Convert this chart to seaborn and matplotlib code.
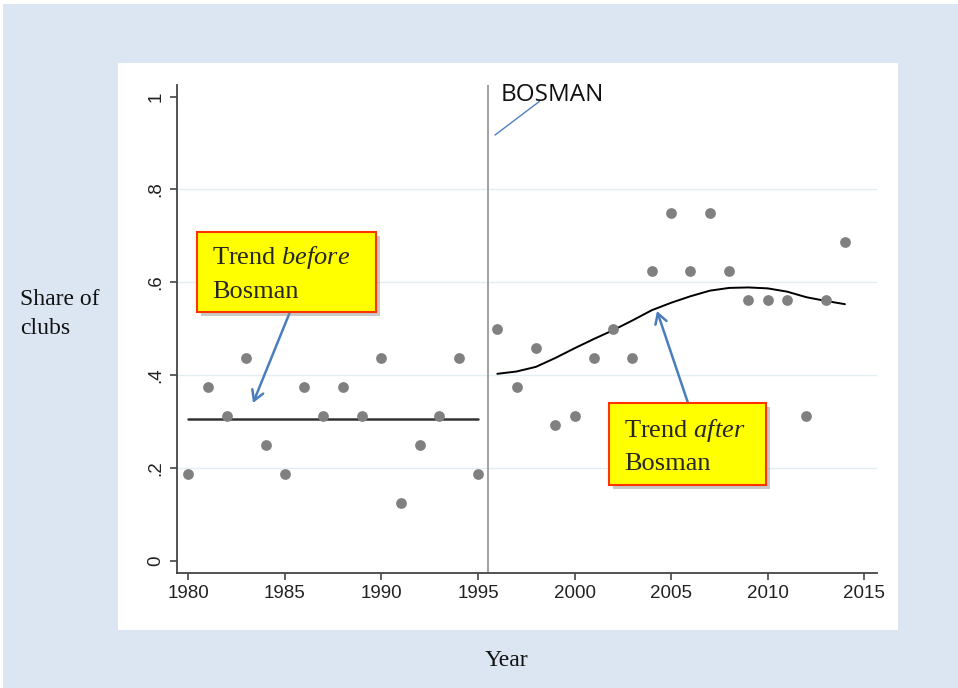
import numpy as np
import seaborn as sns
import matplotlib.pyplot as plt
from matplotlib.patches import Rectangle
import matplotlib.patheffects as pe

# share of clubs per season
years_before = list(range(1980, 1996))
share_before = [0.1875, 0.375, 0.3125, 0.4375, 0.25, 0.1875, 0.375, 0.3125,
                0.375, 0.3125, 0.4375, 0.125, 0.25, 0.3125, 0.4375, 0.1875]

years_after = list(range(1996, 2015))
share_after = [0.5, 0.375, 0.4583, 0.2917, 0.3125, 0.4375, 0.5, 0.4375, 0.625,
               0.75, 0.625, 0.75, 0.625, 0.5625, 0.5625, 0.5625, 0.3125, 0.5625, 0.6875]
# smoothed trend after Bosman
trend_after = [0.403, 0.408, 0.418, 0.437, 0.458, 0.478, 0.497, 0.518, 0.540,
               0.556, 0.570, 0.582, 0.588, 0.589, 0.587, 0.580, 0.568, 0.560, 0.553]

bosman_year = 1995.5
x_ticks = [1980, 1985, 1990, 1995, 2000, 2005, 2010, 2015]
y_ticks = [0, 0.2, 0.4, 0.6, 0.8, 1]
y_tick_labels = ["0", ".2", ".4", ".6", ".8", "1"]
grid_vals = [0.2, 0.4, 0.6, 0.8]

sns.set_theme(style="ticks")
plt.rcParams["font.family"] = ["Liberation Sans", "DejaVu Sans"]
plt.rcParams["mathtext.fontset"] = "custom"
plt.rcParams["mathtext.rm"] = "Liberation Serif"
plt.rcParams["mathtext.it"] = "Liberation Serif:italic"

W, H = 958, 688
fig = plt.figure(figsize=(W / 100, H / 100), dpi=100, facecolor="#dce6f2")
# white panel behind the plot + thin white strips on top/left edge
fig.patches.append(Rectangle((118 / W, 1 - 630 / H), 780 / W, 567 / H,
                             transform=fig.transFigure, fc="white", ec="none", zorder=-10))
fig.patches.append(Rectangle((0, 1 - 4 / H), 1, 4 / H,
                             transform=fig.transFigure, fc="white", ec="none", zorder=-10))
fig.patches.append(Rectangle((0, 0), 3 / W, 1,
                             transform=fig.transFigure, fc="white", ec="none", zorder=-10))

ax = fig.add_axes([177 / W, 1 - 573 / H, 700 / W, 488 / H])
ax.set_facecolor("white")

for g in grid_vals:
    ax.axhline(g, color="#e4edf0", lw=1, zorder=0)
ax.axvline(bosman_year, color="#9a9a9a", lw=1.3, zorder=1)

sns.scatterplot(x=years_before, y=share_before, color="#808080", s=60,
                linewidth=0, ax=ax, zorder=3)
sns.scatterplot(x=years_after, y=share_after, color="#808080", s=60,
                linewidth=0, ax=ax, zorder=3)

mean_before = np.mean(share_before)
sns.lineplot(x=[years_before[0], years_before[-1]], y=[mean_before, mean_before],
             color="#333333", lw=1.8, ax=ax, zorder=2)
sns.lineplot(x=years_after, y=trend_after, color="black", lw=1.4, ax=ax, zorder=2)

ax.set_xlim(1979.415, 2015.66)
ax.set_ylim(-0.026, 1.025)
ax.set_xticks(x_ticks)
ax.set_yticks(y_ticks)
ax.set_yticklabels(y_tick_labels, rotation=90, va="center")
ax.tick_params(axis="both", length=5, width=1.2, color="#444444",
               labelsize=13.5, labelcolor="#222222", pad=4)
for s in ["top", "right"]:
    ax.spines[s].set_visible(False)
for s in ["left", "bottom"]:
    ax.spines[s].set_color("#444444")
    ax.spines[s].set_linewidth(1.3)
ax.set_xlabel("")
ax.set_ylabel("")

# axis titles sit outside the white panel
fig.text(20 / W, 1 - 314 / H, "Share of\nclubs", family="Liberation Serif",
         fontsize=17, ha="left", va="center", linespacing=1.45, color="#111111")
fig.text(506 / W, 1 - 661 / H, "Year", family="Liberation Serif",
         fontsize=17, ha="center", va="center", color="#111111")

# BOSMAN label
ax.text(0.4624, 0.968, "BOSMAN", transform=ax.transAxes, family="Open Sans",
        fontsize=17.5, ha="left", va="baseline", color="#111111")
ax.plot([0.4543, 0.5176], [0.8975, 0.9662], transform=ax.transAxes,
        color="#4f81bd", lw=1)

arrow_blue = "#4a7ebb"
shadow = [pe.SimplePatchShadow(offset=(3, -3), shadow_rgbFace="#888888", alpha=0.45),
          pe.Normal()]

# box: trend before
b1 = Rectangle((0.0286, 0.5348), 0.2557, 0.1639, transform=ax.transAxes,
               fc="#ffff00", ec="#ff3300", lw=1.5, zorder=5)
b1.set_path_effects(shadow)
ax.add_patch(b1)
ax.text(0.05, 0.633, "Trend $\\mathit{before}$", transform=ax.transAxes,
        family="Liberation Serif", fontsize=19, ha="left", va="baseline", zorder=6)
ax.text(0.05, 0.5635, "Bosman", transform=ax.transAxes,
        family="Liberation Serif", fontsize=19, ha="left", va="baseline", zorder=6)
ax.annotate("", xy=(0.1086, 0.3484), xytext=(0.1614, 0.5348),
            xycoords="axes fraction", textcoords="axes fraction",
            arrowprops=dict(arrowstyle="->,head_length=0.6,head_width=0.35",
                            color=arrow_blue, lw=1.8, shrinkA=0, shrinkB=0), zorder=4)

# box: trend after
b2 = Rectangle((0.6171, 0.1803), 0.2243, 0.168, transform=ax.transAxes,
               fc="#ffff00", ec="#ff3300", lw=1.5, zorder=5)
b2.set_path_effects(shadow)
ax.add_patch(b2)
ax.text(0.6386, 0.2787, "Trend $\\mathit{after}$", transform=ax.transAxes,
        family="Liberation Serif", fontsize=19, ha="left", va="baseline", zorder=6)
ax.text(0.6386, 0.211, "Bosman", transform=ax.transAxes,
        family="Liberation Serif", fontsize=19, ha="left", va="baseline", zorder=6)
ax.annotate("", xy=(0.6857, 0.5369), xytext=(0.73, 0.3484),
            xycoords="axes fraction", textcoords="axes fraction",
            arrowprops=dict(arrowstyle="->,head_length=0.6,head_width=0.35",
                            color=arrow_blue, lw=1.8, shrinkA=0, shrinkB=0), zorder=4)

fig.savefig("out.png", dpi=100, facecolor=fig.get_facecolor())
